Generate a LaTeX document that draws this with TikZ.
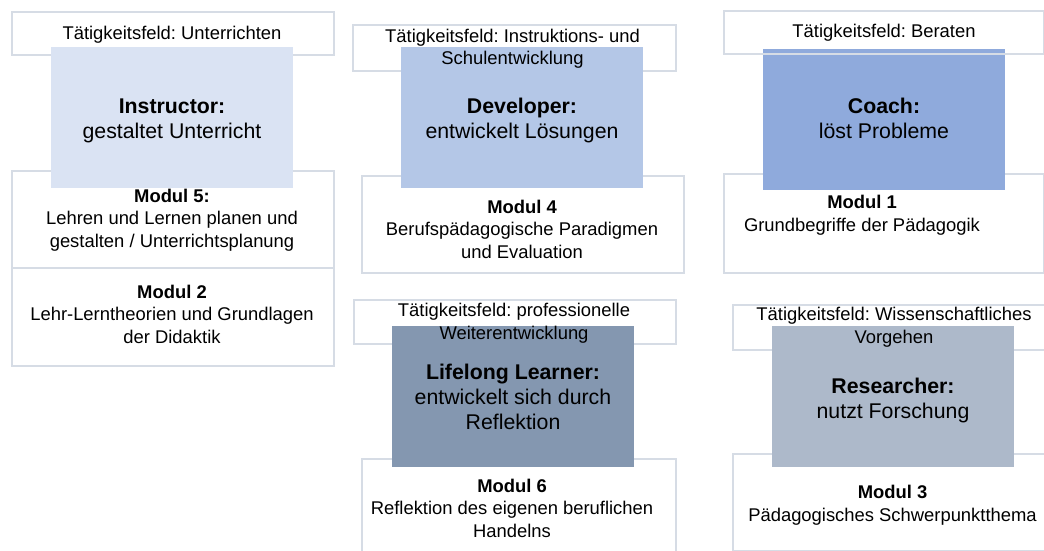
\documentclass[tikz,border=0pt]{standalone}
\usepackage{fontspec}
\setmainfont{Liberation Sans}
\frenchspacing
\definecolor{edge}{HTML}{D6DCE5}
\definecolor{instr}{HTML}{DAE3F3}
\definecolor{devel}{HTML}{B4C7E7}
\definecolor{coach}{HTML}{8FAADC}
\definecolor{lifel}{HTML}{8497B0}
\definecolor{resea}{HTML}{ADB9CA}
\newcommand{\smallfnt}{\fontsize{18.4}{22.3}\selectfont}
\newcommand{\rolefnt}{\fontsize{21.3}{25}\selectfont}
\tikzset{
  frame/.style={draw=edge, line width=2pt, fill=none, inner sep=0pt, anchor=north west},
  rolebox/.style={draw=none, inner sep=0pt, anchor=north west},
  labeltext/.style={font=\smallfnt, align=center, anchor=base, inner sep=0pt, text=black},
  roletext/.style={font=\rolefnt, align=center, anchor=base, inner sep=0pt, text=black},
}
\newcommand{\boxat}[6]{% name, style, x1, y1, x2, y2
  \node[#2, minimum width={(#5-#3)*1pt}, minimum height={(#6-#4)*1pt}] (#1) at (#3,#4) {};}
\begin{document}
\begin{tikzpicture}[x=1pt, y=-1pt]
\useasboundingbox (0,0) rectangle (1044,551);
\begin{scope}
\clip (0,0) rectangle (1044,551);
% outlined boxes: fields of activity and modules
\boxat{fUnt}{frame}{11}{11}{333}{54}
\boxat{mFuenf}{frame}{11}{170}{333}{267}
\boxat{mZwei}{frame}{11}{267}{333}{365}
\boxat{fInst}{frame}{352}{24}{675}{70}
\boxat{mVier}{frame}{361}{175}{683}{272}
\boxat{fWeit}{frame}{353}{299}{675}{343}
\boxat{mSechs}{frame}{361}{458}{675}{570}
\boxat{mEins}{frame}{723}{173}{1043}{272}
\boxat{fWiss}{frame}{732}{304}{1064}{349}
\boxat{mDrei}{frame}{732}{453}{1064}{550}
% filled role boxes
\boxat{rInstr}{rolebox, fill=instr}{51}{47}{293}{188}
\boxat{rDevel}{rolebox, fill=devel}{401}{47}{643}{188}
\boxat{rLifel}{rolebox, fill=lifel}{392}{326}{634}{467}
\boxat{rCoach}{rolebox, fill=coach}{763}{49}{1005}{190}
\boxat{rResea}{rolebox, fill=resea}{772}{326}{1014}{467}
% the Beraten frame lies over its role box
\boxat{fBer}{frame}{723}{10}{1043}{53}
\end{scope}
% field texts (anchored at the baseline of their last line)
\node[labeltext] (tUnt) at (172,40) {Tätigkeitsfeld: Unterrichten};
\node[labeltext] (tInst) at (512.5,65) {Tätigkeitsfeld: Instruktions- und\\Schulentwicklung};
\node[labeltext] (tBer) at (884,38) {Tätigkeitsfeld: Beraten};
\node[labeltext] (tWeit) at (514,339) {Tätigkeitsfeld: professionelle\\Weiterentwicklung};
\node[labeltext] (tWiss) at (894,343) {Tätigkeitsfeld: Wissenschaftliches\\Vorgehen};
% role texts
\node[roletext] (trInstr) at (172,138) {\textbf{Instructor:}\\gestaltet Unterricht};
\node[roletext] (trDevel) at (522,138) {\textbf{Developer:}\\entwickelt Lösungen};
\node[roletext] (trCoach) at (884,138) {\textbf{Coach:}\\löst Probleme};
\node[roletext] (trLifel) at (513,429) {\textbf{Lifelong Learner:}\\entwickelt sich durch\\Reflektion};
\node[roletext] (trResea) at (893,418) {\textbf{Researcher:}\\nutzt Forschung};
% module texts
\node[labeltext] (tmFuenf) at (172,247) {\textbf{Modul 5:}\\Lehren und Lernen planen und\\gestalten / Unterrichtsplanung};
\node[labeltext] (tmZwei) at (172,343) {\textbf{Modul 2}\\Lehr-Lerntheorien und Grundlagen\\der Didaktik};
\node[labeltext] (tmVier) at (522,258) {\textbf{Modul 4}\\Berufspädagogische Paradigmen\\und Evaluation};
\node[labeltext] (tmEins) at (862,231) {\textbf{Modul 1}\\Grundbegriffe der Pädagogik};
\node[labeltext] (tmSechs) at (512,537) {\textbf{Modul 6}\\Reflektion des eigenen beruflichen\\Handelns};
\node[labeltext] (tmDrei) at (892.5,521) {\textbf{Modul 3}\\Pädagogisches Schwerpunktthema};
\end{tikzpicture}
\end{document}
